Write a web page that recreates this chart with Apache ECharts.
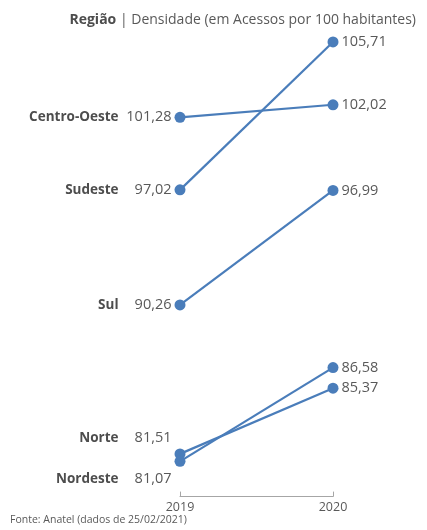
<!DOCTYPE html>
<html><head><meta charset="utf-8">
<script src="https://cdn.jsdelivr.net/npm/echarts@6/dist/echarts.min.js"></script>
<style>html,body{margin:0;padding:0;background:#fff}#c{width:427px;height:530px}</style>
</head><body><div id="c"></div>
<script>
const years = ['2019', '2020'];
const regions = ['Centro-Oeste', 'Sudeste', 'Sul', 'Norte', 'Nordeste'];
const values2019 = [101.28, 97.02, 90.26, 81.51, 81.07];
const values2020 = [102.02, 105.71, 96.99, 85.37, 86.58];
const leftLabelShift = [0, 0, 0, -16, 18];
const titleText = 'Densidade (em Acessos por 100 habitantes)';
const sourceText = 'Fonte: Anatel (dados de 25/02/2021)';

const FONT = 'Open Sans';
const BLUE = '#4a7dba';
const fmt = v => v.toFixed(2).replace('.', ',');

const series = regions.map((r, i) => ({
  type: 'line', name: r,
  symbol: 'circle', symbolSize: 11,
  lineStyle: { color: BLUE, width: 2.2 },
  itemStyle: { color: BLUE },
  z: 3,
  data: [
    { value: values2019[i], label: {
        show: true, position: 'left', distance: 3,
        offset: [0, leftLabelShift[i]],
        formatter: '{n|' + r + '}{v|' + fmt(values2019[i]) + '}',
        rich: {
          n: { fontFamily: FONT, fontWeight: 'bold', fontSize: 13.5, color: '#4d4d4d', align: 'right' },
          v: { fontFamily: FONT, fontSize: 14.5, color: '#595959', width: 53, align: 'right' }
        }
    }},
    { value: values2020[i], label: {
        show: true, position: 'right', distance: 3,
        formatter: fmt(values2020[i]),
        fontFamily: FONT, fontSize: 14.5, color: '#595959'
    }}
  ]
}));

const chart = echarts.init(document.getElementById('c'), null, { renderer: 'canvas' });
chart.setOption({
  animation: false,
  backgroundColor: '#fff',
  title: {
    text: '{b|Região} | ' + titleText,
    right: 6, top: 8,
    textStyle: {
      fontFamily: FONT, fontSize: 14, fontWeight: 'normal', color: '#595959',
      rich: { b: { fontFamily: FONT, fontSize: 14, fontWeight: 'bold', color: '#4d4d4d' } }
    }
  },
  graphic: [{
    type: 'text', left: 10, top: 515,
    style: { text: sourceText, fontFamily: FONT, fontSize: 10.5, fill: '#595959' }
  }],
  grid: { left: 180, right: 94, top: 20, bottom: 33.4 },
  xAxis: {
    type: 'category', data: years, boundaryGap: false,
    axisLine: { lineStyle: { color: '#a6a6a6', width: 1 } },
    axisTick: { show: true, inside: true, length: 5, lineStyle: { color: '#a6a6a6' } },
    axisLabel: { fontFamily: FONT, fontSize: 12.5, color: '#595959', margin: 4 },
    splitLine: { show: false }
  },
  yAxis: {
    type: 'value', min: 79, max: 107, show: false,
    splitLine: { show: false }
  },
  series: series
});
</script>
</body></html>
